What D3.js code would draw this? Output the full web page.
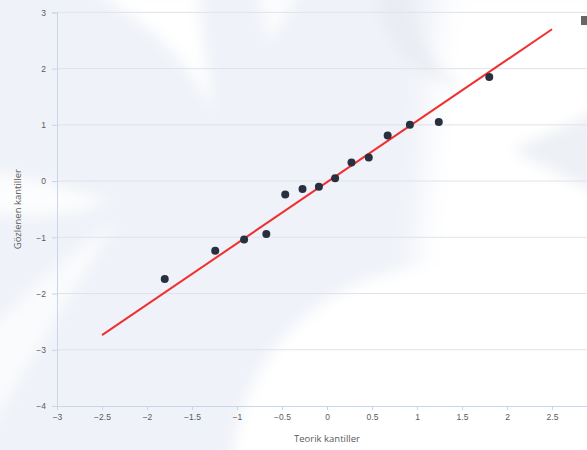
<!DOCTYPE html>
<html>
<head>
<meta charset="utf-8">
<script src="https://cdn.jsdelivr.net/npm/d3@7"></script>
<style>
  html, body { margin: 0; padding: 0; background: #eff2f8; overflow: hidden; }
  svg { display: block; font-family: "Open Sans", "DejaVu Sans", sans-serif; }
</style>
</head>
<body>
<svg id="chart" width="587" height="450"></svg>
<script>
// Q-Q plot: sample quantiles against theoretical normal quantiles
const theoretical = [-1.803, -1.242, -0.921, -0.674, -0.464, -0.272, -0.090,
                      0.090,  0.272,  0.464,  0.674,  0.921,  1.242,  1.803];
const observed    = [-1.74, -1.24, -1.04, -0.94, -0.24, -0.14, -0.10,
                      0.05,  0.33,  0.42,  0.81,  1.00,  1.05,  1.85];

// reference line end points
const lineX = [-2.5, 2.5];
const lineY = [-2.74, 2.70];

const xTicks = [-3, -2.5, -2, -1.5, -1, -0.5, 0, 0.5, 1, 1.5, 2, 2.5];
const yTicks = [-4, -3, -2, -1, 0, 1, 2, 3];

const xTitle = "Teorik kantiller";
const yTitle = "Gözlenen kantiller";

const svg = d3.select("#chart");
const W = 587, H = 450;

// ---- soft watermark background ----
const defs = svg.append("defs");
defs.append("filter").attr("id", "soft").attr("x", "-20%").attr("y", "-20%")
  .attr("width", "140%").attr("height", "140%")
  .append("feGaussianBlur").attr("stdDeviation", 7);
defs.append("filter").attr("id", "softer").attr("x", "-20%").attr("y", "-20%")
  .attr("width", "140%").attr("height", "140%")
  .append("feGaussianBlur").attr("stdDeviation", 14);

const bg = svg.append("g");
bg.append("rect").attr("width", W).attr("height", H).attr("fill", "#eff2f8");

const wm = bg.append("g").attr("fill", "#ffffff");
// right-hand light area
wm.append("path").attr("filter", "url(#softer)")
  .attr("d", "M445,-20 C425,80 430,180 415,260 C405,330 400,400 405,470 L620,470 L620,-20 Z");
// upper-right arc band
wm.append("path").attr("filter", "url(#soft)").attr("fill", "#e9ecf2")
  .attr("d", "M378,-10 C380,40 410,75 470,90 C430,70 412,40 412,-10 Z");
// left-pointing chevron
wm.append("path").attr("filter", "url(#soft)").attr("fill", "#edf0f4")
  .attr("d", "M512,150 L600,110 L600,195 Z");
// bottom circle
wm.append("circle").attr("filter", "url(#soft)")
  .attr("cx", 440).attr("cy", 475).attr("r", 208);
// top-left blade
wm.append("path").attr("filter", "url(#soft)")
  .attr("d", "M92,-10 C140,20 185,50 213,112 C208,70 200,30 198,-10 Z");
// thin top blade
wm.append("path").attr("filter", "url(#soft)").attr("opacity", 0.8)
  .attr("d", "M255,-10 C262,10 266,25 268,45 C280,25 292,10 300,-10 Z");
// left band
wm.append("path").attr("filter", "url(#soft)").attr("opacity", 0.85)
  .attr("d", "M-10,172 C30,178 70,190 110,200 C80,214 40,220 -10,212 Z");
// bottom-left wedge
wm.append("path").attr("filter", "url(#soft)").attr("opacity", 0.7)
  .attr("d", "M-10,430 C30,360 80,280 118,220 C70,250 20,300 -10,330 Z");

// ---- scales ----
const x = d3.scaleLinear().domain([-3, 3]).range([57, 597]);
const y = d3.scaleLinear().domain([-4, 3]).range([406, 12.4]);

const fmt = v => (v < 0 ? "\u2212" : "") + Math.abs(v);

// horizontal grid
svg.append("g")
  .selectAll("line").data(yTicks.filter(v => v !== -4)).join("line")
  .attr("x1", x(-3)).attr("x2", x(3))
  .attr("y1", d => y(d)).attr("y2", d => y(d))
  .attr("stroke", "#dfe3ea").attr("stroke-width", 1);

// axes
const xAxis = svg.append("g").attr("transform", `translate(0,${y(-4)})`)
  .call(d3.axisBottom(x).tickValues(xTicks).tickFormat(fmt).tickSize(4).tickPadding(4));
const yAxis = svg.append("g").attr("transform", `translate(${x(-3)},0)`)
  .call(d3.axisLeft(y).tickValues(yTicks).tickFormat(fmt).tickSize(5).tickPadding(6));

[xAxis, yAxis].forEach(a => {
  a.select(".domain").attr("stroke", "#c9d5e8").attr("stroke-width", 1);
  a.selectAll(".tick line").attr("stroke", "#c9d5e8");
  a.selectAll(".tick text").attr("fill", "#5a5a5a").attr("font-size", 8.5);
});

// axis titles
svg.append("text")
  .attr("x", (x(-3) + x(3)) / 2).attr("y", 442)
  .attr("text-anchor", "middle").attr("fill", "#5a5a5a").attr("font-size", 9.5)
  .text(xTitle);
svg.append("text")
  .attr("transform", `translate(21,${(y(-4) + y(3)) / 2}) rotate(-90)`)
  .attr("text-anchor", "middle").attr("fill", "#5a5a5a").attr("font-size", 9.5)
  .text(yTitle);

// reference line
svg.append("line")
  .attr("x1", x(lineX[0])).attr("y1", y(lineY[0]))
  .attr("x2", x(lineX[1])).attr("y2", y(lineY[1]))
  .attr("stroke", "#f03030").attr("stroke-width", 2);

// sample points
svg.append("g")
  .selectAll("circle").data(theoretical.map((t, i) => [t, observed[i]])).join("circle")
  .attr("cx", d => x(d[0])).attr("cy", d => y(d[1]))
  .attr("r", 4).attr("fill", "#283040");

// legend marker at the edge
svg.append("rect").attr("x", 581).attr("y", 16).attr("width", 6).attr("height", 9)
  .attr("fill", "#666");
</script>
</body>
</html>
